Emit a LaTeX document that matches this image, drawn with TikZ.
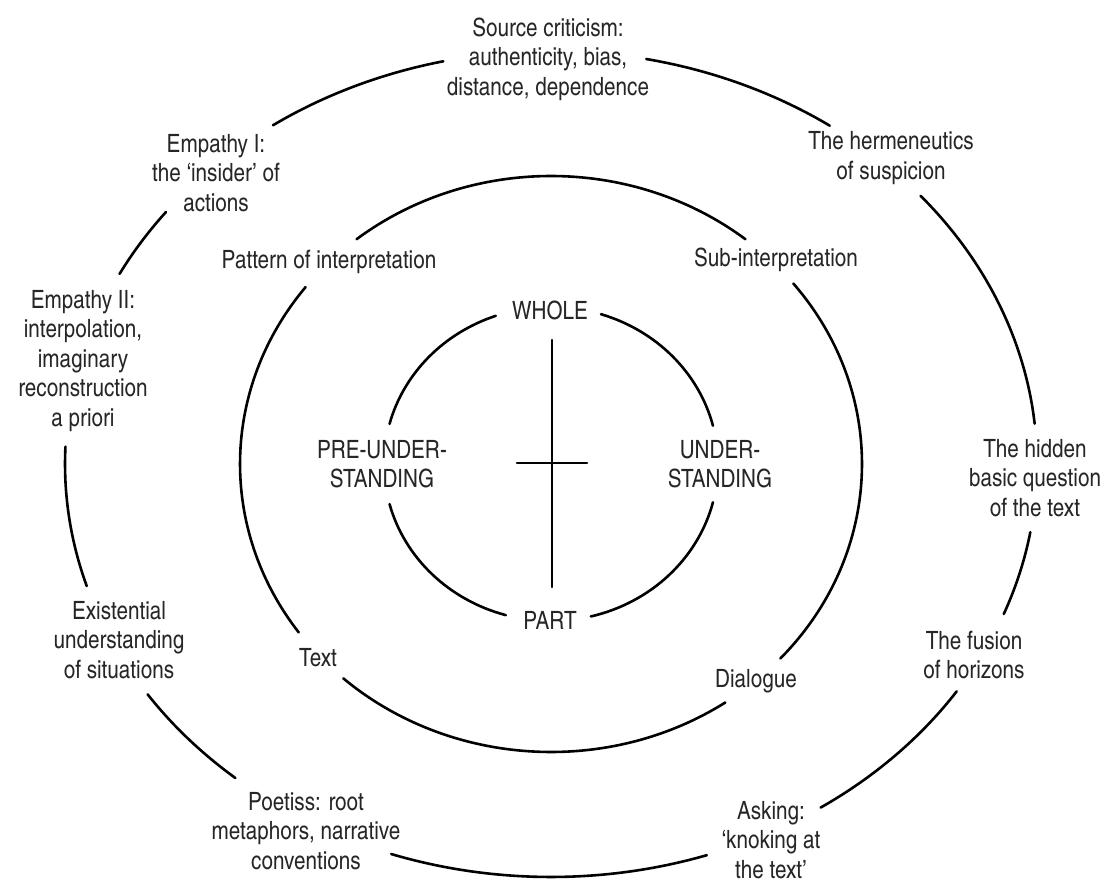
\documentclass[tikz,border=0pt]{standalone}
\usepackage{fontspec}
\setmainfont{texgyreheroscn-regular.otf}
\usepackage{tikz}

\begin{document}
\begin{tikzpicture}[
    x=0.5pt, y=0.5pt,
    lbl/.style={align=center, text=black!85, inner sep=0pt,
                font=\fontsize{12.6}{14.75}\selectfont},
    ring/.style={line width=1.3pt, line cap=round},
  ]
  \useasboundingbox (0,0) rectangle (1110,-881);
  \coordinate (ctr) at (551,-464);

  % outer ring
  \node[lbl] (src) at (548,-59) {Source criticism:\\authenticity, bias,\\distance, dependence};
  \node[lbl] (emp1) at (216,-173) {Empathy I:\\the `insider' of\\actions};
  \node[lbl] (emp2) at (83,-361) {Empathy II:\\interpolation,\\imaginary\\reconstruction\\a priori};
  \node[lbl] (exist) at (119,-640) {Existential\\understanding\\of situations};
  \node[lbl] (poet) at (306,-831) {Poetiss: root\\metaphors, narrative\\conventions};
  \node[lbl] (ask) at (771,-840) {Asking:\\`knoking at\\the text'};
  \node[lbl] (fusion) at (974,-655) {The fusion\\of horizons};
  \node[lbl] (hidden) at (1035,-478) {The hidden\\basic question\\of the text};
  \node[lbl] (herm) at (891,-158) {The hermeneutics\\of suspicion};

  % middle ring
  \node[lbl] (pattern) at (329,-262) {Pattern of interpretation};
  \node[lbl] (subint) at (776,-260) {Sub-interpretation};
  \node[lbl] (dialog) at (756,-681) {Dialogue};
  \node[lbl] (textlbl) at (318,-658) {Text};

  % inner ring
  \node[lbl] (whole) at (550,-310) {WHOLE};
  \node[lbl] (part) at (550,-620) {PART};
  \node[lbl] (preund) at (382,-464) {PRE-UNDER-\\STANDING};
  \node[lbl] (und) at (720,-464) {UNDER-\\STANDING};

  \foreach \a/\b in {102.8/124.9, 142.4/152.6, 177.6/197.2, 213.9/229.5, 250.8/288.7,
                     303.7/326.6, 338.7/350.5, 5.6/40.5, 55.0/78.7}
    \draw[ring] (ctr) ++(\a:486 and 413) arc[start angle=\a, end angle=\b, x radius=486, y radius=413];
  \foreach \a/\b in {51.3/128.7, 142.1/215.8, 228.1/304.1, 317.5/398.8}
    \draw[ring] (ctr) ++(\a:311 and 288) arc[start angle=\a, end angle=\b, x radius=311, y radius=288];
  \foreach \a/\b in {109.3/165.2, 194.8/254.3, 283.8/345.9, 14.1/72.6}
    \draw[ring] (ctr) ++(\a:167 and 157) arc[start angle=\a, end angle=\b, x radius=167, y radius=157];

  % cross
  \coordinate (crosstop) at (552,-340);
  \coordinate (crossbot) at (552,-587);
  \coordinate (crossl) at (517,-463);
  \coordinate (crossr) at (587,-463);
  \draw[ring] (crosstop) -- (crossbot);
  \draw[ring] (crossl) -- (crossr);
\end{tikzpicture}
\end{document}
